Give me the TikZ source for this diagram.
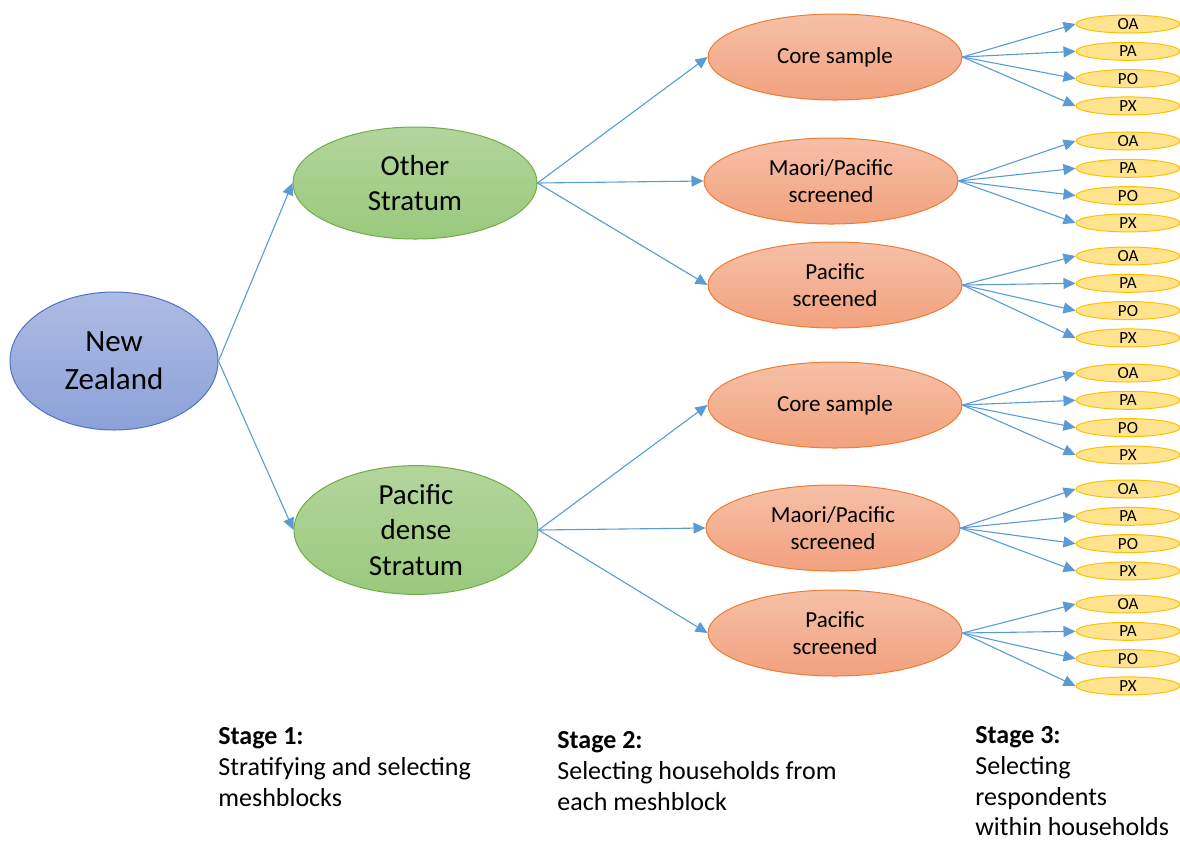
\documentclass[tikz,border=0pt]{standalone}
\usepackage{fontspec}
\setmainfont{Carlito}
\usetikzlibrary{shapes.geometric}
\usetikzlibrary{arrows.meta}
\definecolor{linkblue}{HTML}{5B9BD5}
\definecolor{nzedge}{HTML}{4F74C4}
\definecolor{nztop}{HTML}{AEBCE3}
\definecolor{nzbot}{HTML}{8BA1D8}
\definecolor{stredge}{HTML}{70AD47}
\definecolor{strtop}{HTML}{B3D59D}
\definecolor{strbot}{HTML}{99C97C}
\definecolor{hhedge}{HTML}{ED7D31}
\definecolor{hhtop}{HTML}{F6C0A8}
\definecolor{hhbot}{HTML}{F2A17D}
\definecolor{respedge}{HTML}{FFC000}
\definecolor{respfill}{HTML}{FFE38F}
\tikzstyle{branch}=[draw=linkblue, line width=0.55pt, -{Triangle[length=6pt,width=5.5pt]}]
\tikzstyle{country}=[ellipse, draw=nzedge, line width=0.5pt, top color=nztop, bottom color=nzbot, minimum width=104pt, minimum height=69pt, inner sep=0pt, align=center, font=\fontsize{15.5}{19}\selectfont]
\tikzstyle{stratum}=[ellipse, draw=stredge, line width=0.5pt, top color=strtop, bottom color=strbot, minimum width=122pt, minimum height=56pt, inner sep=0pt, align=center, font=\fontsize{14.5}{17.7}\selectfont]
\tikzstyle{hhold}=[ellipse, draw=hhedge, line width=0.5pt, top color=hhtop, bottom color=hhbot, minimum width=127pt, minimum height=43pt, inner sep=0pt, align=center, font=\fontsize{11.5}{13.5}\selectfont]
\tikzstyle{resp}=[ellipse, draw=respedge, line width=0.5pt, fill=respfill, minimum width=52pt, minimum height=9pt, inner sep=0pt, font=\fontsize{8.5}{9}\selectfont]
\tikzstyle{stagetext}=[anchor=north west, align=left, inner sep=0pt, font=\fontsize{13}{15.4}\selectfont]
\newcommand{\drawrespondents}[2]{% #1 = household node, #2 = y of the OA ellipse
  \foreach \lab [count=\k from 0] in {OA,PA,PO,PX} {
    \pgfmathsetmacro{\ypos}{#2 + \k*27.3}
    \node[resp] (#1-\lab) at (1128,\ypos) {\lab};
    \draw[branch] (#1.east) -- (#1-\lab.west);
  }
}

\begin{document}
\begin{tikzpicture}[x=0.5pt, y=-0.5pt]
	\useasboundingbox (0,0) rectangle (1180,843);
	% stage 1
	\node[country] (nz) at (114,361) {New\\Zealand};
	\node[stratum] (other) at (415,183) {Other\\Stratum};
	\node[stratum] (dense) at (416,530) {Pacific\\dense\\Stratum};
	\draw[branch] (nz.east) -- (other.west);
	\draw[branch] (nz.east) -- (dense.west);
	% stage 2
	\node[hhold] (oCore) at (835,57) {Core sample};
	\node[hhold] (oMaori) at (831,181) {Maori/Pacific\\screened};
	\node[hhold] (oPac) at (835,285) {Pacific\\screened};
	\node[hhold] (dCore) at (835,405) {Core sample};
	\node[hhold] (dMaori) at (833,528) {Maori/Pacific\\screened};
	\node[hhold] (dPac) at (835,633) {Pacific\\screened};
	\foreach \hh in {oCore,oMaori,oPac} {
		\draw[branch] (other.east) -- (\hh.west);
	}
	\foreach \hh in {dCore,dMaori,dPac} {
		\draw[branch] (dense.east) -- (\hh.west);
	}
	% stage 3
	\drawrespondents{oCore}{24}
	\drawrespondents{oMaori}{141}
	\drawrespondents{oPac}{256}
	\drawrespondents{dCore}{373}
	\drawrespondents{dMaori}{489}
	\drawrespondents{dPac}{604}
	% captions
	\node[stagetext] (stageone) at (218,727) {\textbf{Stage 1:}\\Stratifying and selecting\\meshblocks};
	\node[stagetext] (stagetwo) at (557,731) {\textbf{Stage 2:}\\Selecting households from\\each meshblock};
	\node[stagetext] (stagethree) at (975,726) {\textbf{Stage 3:}\\Selecting\\respondents\\within households};
\end{tikzpicture}
\end{document}
